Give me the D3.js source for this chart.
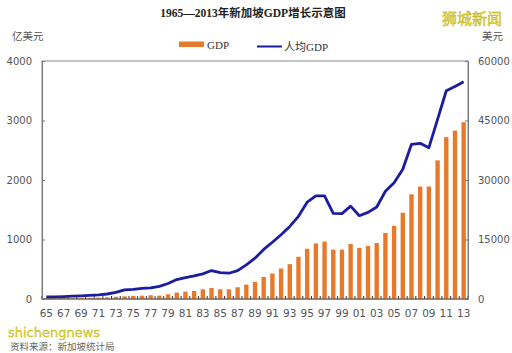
<!DOCTYPE html>
<html>
<head>
<meta charset="utf-8">
<script src="https://cdn.jsdelivr.net/npm/d3@7"></script>
<style>
  body { margin: 0; background: #fff; }
  text { font-family: "DejaVu Sans", "Noto Sans CJK SC", sans-serif; }
</style>
</head>
<body>
<div id="chart-area"></div>
<script>
// 1965-2013, GDP in 亿美元 (bars), per-capita GDP in 美元 (line)
const years = d3.range(1965, 2014);
const gdp = [10, 11, 12, 14, 17, 19, 23, 27, 37, 45,
    52, 56, 63, 56, 79, 107, 124, 135, 163, 186,
    163, 163, 197, 242, 287, 371, 428, 512, 585, 709,
    844, 934, 965, 830, 830, 925, 860, 890, 940, 1110,
    1230, 1450, 1760, 1890, 1890, 2330, 2720, 2830, 2970];
const gdpPerCapita = [500, 560, 620, 700, 800, 920, 1060, 1260, 1650, 2300,
    2450, 2700, 2800, 3200, 3900, 4900, 5400, 5820, 6330, 7170,
    6660, 6500, 7170, 8610, 10300, 12500, 14300, 16200, 18300, 20840,
    24400, 26000, 26000, 21600, 21520, 23400, 21000, 21850, 23200, 27170,
    29300, 32700, 39000, 39240, 38150, 45300, 52500, 53600, 54760];
const leftTicks = [0, 1000, 2000, 3000, 4000];
const rightTicks = [0, 15000, 30000, 45000, 60000];

const W = 512, H = 353;
const margin = {left: 42, right: 44, top: 61, bottom: 54};
const width = W - margin.left - margin.right;
const height = H - margin.top - margin.bottom;

const svg = d3.select('#chart-area')
    .append('svg')
    .attr('width', W)
    .attr('height', H);

svg.append('text')
    .attr('x', 253)
    .attr('y', 17)
    .attr('text-anchor', 'middle')
    .attr('font-size', '11.5px')
    .attr('font-weight', 'bold')
    .style('font-family', '"Liberation Serif", "Noto Sans CJK SC", serif')
    .attr('fill', '#222')
    .text('1965—2013年新加坡GDP增长示意图');

// watermark top right
svg.append('text')
    .attr('x', 502)
    .attr('y', 24)
    .attr('text-anchor', 'end')
    .attr('font-size', '15px')
    .attr('fill', '#e8e23a')
    .attr('stroke', '#b8a820')
    .attr('stroke-width', 0.4)
    .text('狮城新闻');

svg.append('text')
    .attr('x', 12)
    .attr('y', 40)
    .attr('font-size', '10.5px')
    .attr('fill', '#555')
    .text('亿美元');

svg.append('text')
    .attr('x', 503)
    .attr('y', 40)
    .attr('text-anchor', 'end')
    .attr('font-size', '10.5px')
    .attr('fill', '#555')
    .text('美元');

// legend
const legend = svg.append('g');
legend.append('rect')
    .attr('x', 179).attr('y', 41.5)
    .attr('width', 25).attr('height', 5.5)
    .attr('fill', '#e8782a');
legend.append('text')
    .attr('x', 207).attr('y', 49)
    .attr('font-size', '11px')
    .style('font-family', '"Liberation Serif", serif')
    .attr('fill', '#333')
    .text('GDP');
legend.append('line')
    .attr('x1', 257).attr('x2', 282)
    .attr('y1', 46.5).attr('y2', 46.5)
    .attr('stroke', '#1c1ca0')
    .attr('stroke-width', 2);
legend.append('text')
    .attr('x', 284).attr('y', 51)
    .attr('font-size', '11px')
    .style('font-family', '"Liberation Serif", "Noto Sans CJK SC", serif')
    .attr('fill', '#333')
    .text('人均GDP');

const g = svg.append('g')
    .attr('transform', `translate(${margin.left}, ${margin.top})`);

const x = d3.scaleBand()
    .domain(years)
    .range([0, width])
    .paddingInner(0.5)
    .paddingOuter(0.25);

const yL = d3.scaleLinear().domain([0, 4000]).range([height, 0]);
const yR = d3.scaleLinear().domain([0, 60000]).range([height, 0]);

// plot border
g.append('rect')
    .attr('width', width)
    .attr('height', height)
    .attr('fill', 'none')
    .attr('stroke', '#8a8a8a')
    .attr('stroke-width', 1);

g.selectAll('rect.bar')
    .data(years)
    .enter()
    .append('rect')
    .attr('class', 'bar')
    .attr('x', d => x(d))
    .attr('y', (d, i) => yL(gdp[i]))
    .attr('width', x.bandwidth())
    .attr('height', (d, i) => height - yL(gdp[i]))
    .attr('fill', '#e8782a');

const line = d3.line()
    .x((d, i) => x(years[i]) + x.bandwidth() / 2)
    .y(d => yR(d));

g.append('path')
    .datum(gdpPerCapita)
    .attr('fill', 'none')
    .attr('stroke', '#1c1ca0')
    .attr('stroke-width', 2.8)
    .attr('stroke-linejoin', 'round')
    .attr('d', line);

// x axis: ticks between categories, pointing up
const xTicks = d3.range(years.length + 1);
g.selectAll('line.xtick')
    .data(xTicks)
    .enter()
    .append('line')
    .attr('x1', d => d * width / years.length)
    .attr('x2', d => d * width / years.length)
    .attr('y1', height)
    .attr('y2', height - 3)
    .attr('stroke', '#333');

g.append('line')
    .attr('x1', 0).attr('x2', width)
    .attr('y1', height).attr('y2', height)
    .attr('stroke', '#555');

g.selectAll('text.xlab')
    .data(years.filter(d => (d - 1965) % 2 === 0))
    .enter()
    .append('text')
    .attr('x', d => x(d) + x.bandwidth() / 2)
    .attr('y', height + 18)
    .attr('text-anchor', 'middle')
    .attr('font-size', '10.5px')
    .attr('fill', '#555')
    .text(d => String(d).slice(2));

// left axis
const yAxisL = d3.axisLeft(yL).tickValues(leftTicks).tickFormat(d3.format('d'))
    .tickSizeInner(-3).tickSizeOuter(0).tickPadding(10);
g.append('g')
    .call(yAxisL)
    .call(a => a.select('.domain').attr('stroke', '#777'))
    .call(a => a.selectAll('line').attr('stroke', '#777'))
    .call(a => a.selectAll('text').attr('font-size', '10px').attr('fill', '#555').style('font-family', '"DejaVu Sans", sans-serif'));

// right axis
const yAxisR = d3.axisRight(yR).tickValues(rightTicks).tickFormat(d3.format('d'))
    .tickSizeInner(-3).tickSizeOuter(0).tickPadding(10);
g.append('g')
    .attr('transform', `translate(${width}, 0)`)
    .call(yAxisR)
    .call(a => a.select('.domain').attr('stroke', '#777'))
    .call(a => a.selectAll('line').attr('stroke', '#777'))
    .call(a => a.selectAll('text').attr('font-size', '10px').attr('fill', '#555').style('font-family', '"DejaVu Sans", sans-serif'));

// watermark + source bottom left (stacked so they do not collide)
svg.append('text')
    .attr('x', 8)
    .attr('y', 337)
    .attr('font-size', '13px')
    .attr('fill', '#e0dc30')
    .attr('stroke', '#b8a820')
    .attr('stroke-width', 0.3)
    .text('shichengnews');
svg.append('text')
    .attr('x', 10)
    .attr('y', 350)
    .attr('font-size', '9.5px')
    .attr('fill', '#666')
    .text('资料来源：新加坡统计局');
</script>
</body>
</html>
